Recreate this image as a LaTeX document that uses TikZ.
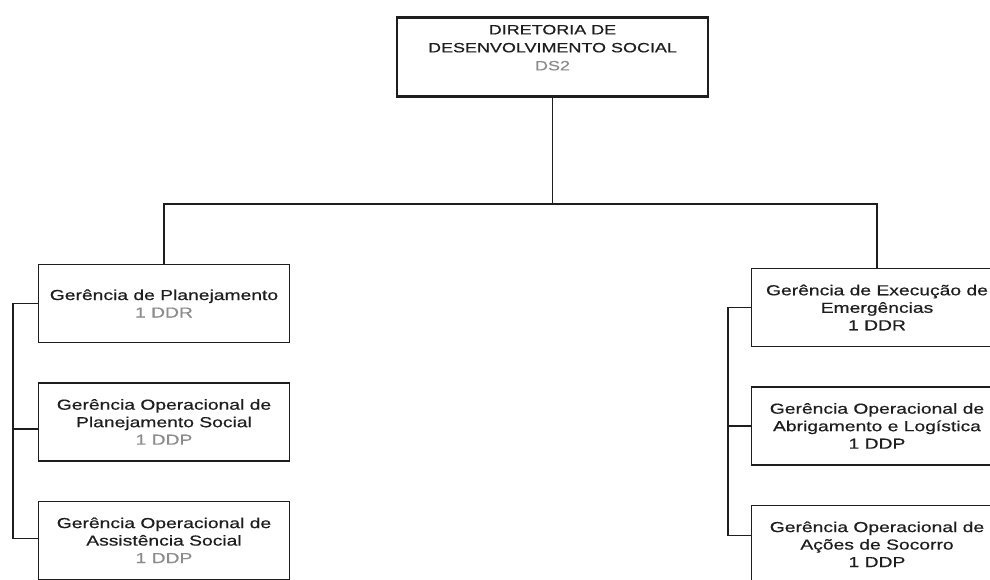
\documentclass[tikz,border=0pt]{standalone}
\usepackage{fontspec}
\setmainfont{Liberation Sans}[FakeStretch=1.33, FakeBold=0.6]
\usetikzlibrary{positioning}
\definecolor{ink}{HTML}{1E1E1E}
\definecolor{codegray}{HTML}{8C8C8C}

\begin{document}
\begin{tikzpicture}[x=1pt, y=1pt, node distance=39pt,
	diretoria/.style={draw=ink, line width=2.6pt, align=center, minimum width=311pt,
		inner ysep=0pt, text height=52.7pt, text depth=26pt,
		font=\fontsize{13.5}{18}\selectfont, text=ink},
	gerencia/.style={draw=ink, line width=1.4pt, align=center, minimum width=251pt,
		minimum height=78pt, font=\fontsize{14.5}{17.5}\selectfont, text=ink},
	link/.style={draw=ink, line width=1.2pt}]

	\useasboundingbox (0,0) rectangle (990,-580);

	\node[diretoria] (ds) at (552.5,-57) {DIRETORIA DE\\DESENVOLVIMENTO SOCIAL\\\textcolor{codegray}{DS2}};

	\node[gerencia] (plan) at (164,-303.5) {Gerência de Planejamento\\\textcolor{codegray}{1 DDR}};
	\node[gerencia, below=of plan] (plansoc) {Gerência Operacional de\\Planejamento Social\\\textcolor{codegray}{1 DDP}};
	\node[gerencia, below=of plansoc] (assist) {Gerência Operacional de\\Assistência Social\\\textcolor{codegray}{1 DDP}};

	\node[gerencia] (exec) at (877,-307.5) {Gerência de Execução de\\Emergências\\1 DDR};
	\node[gerencia, below=of exec] (abrig) {Gerência Operacional de\\Abrigamento e Logística\\1 DDP};
	\node[gerencia, below=of abrig] (socorro) {Gerência Operacional de\\Ações de Socorro\\1 DDP};

	\coordinate (bus) at (0,-204);
	\coordinate (lrail) at (13,0);
	\coordinate (rrail) at (728,0);

	\draw[link] (ds.south) -- (ds.south |- bus);
	\draw[link] (plan.north) |- (ds.south |- bus) -| (exec.north);

	\draw[link] (plan.west) -- (plan.west -| lrail) |- ([yshift=2pt]assist.west);
	\draw[link] ([yshift=-7pt]plansoc.west) -- ([yshift=-7pt]plansoc.west -| lrail);

	\draw[link] (exec.west) -- (exec.west -| rrail) |- ([yshift=9pt]socorro.west);
	\draw[link] (abrig.west) -- (abrig.west -| rrail);

\end{tikzpicture}
\end{document}
